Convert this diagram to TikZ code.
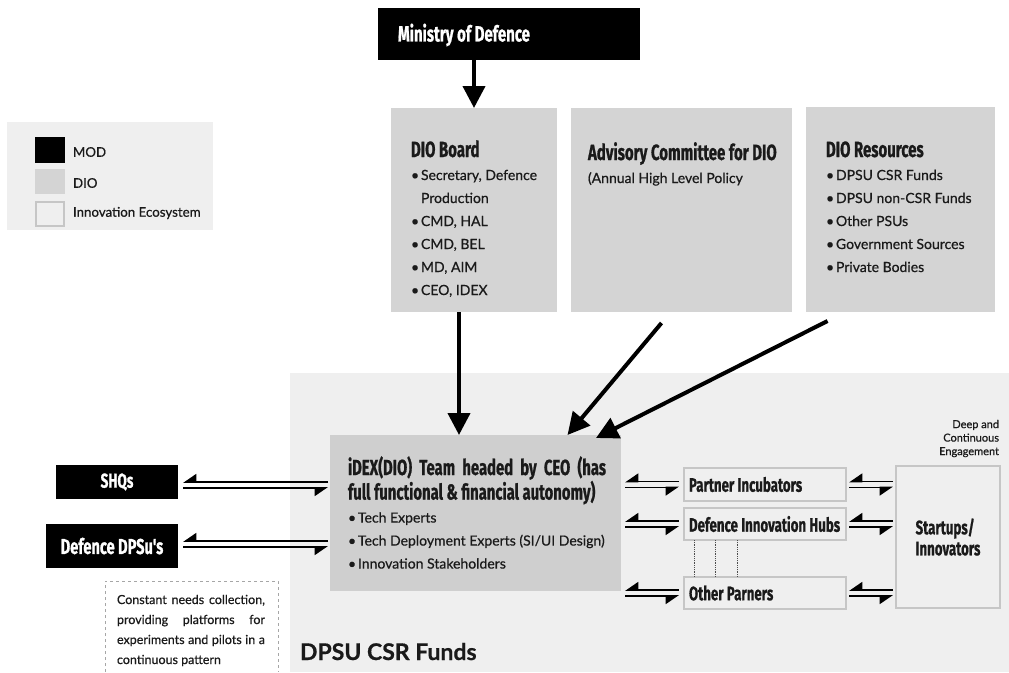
\documentclass[tikz,border=0pt]{standalone}
\usepackage{fontspec}
\setmainfont{Lato}[RawFeature={embolden=0.6}]
\newfontfamily\hfont[FakeStretch=0.68,RawFeature={embolden=0.8}]{Fira Sans}
\usetikzlibrary{arrows.meta,calc}
\definecolor{dio}{HTML}{D4D4D4}
\definecolor{eco}{HTML}{EFEFEF}
\definecolor{ecoline}{HTML}{C6C6C6}
\definecolor{idexc}{HTML}{CFCFCF}
\definecolor{txt}{HTML}{1A1A1A}
\newcommand\hd[2]{{\hfont\bfseries\fontsize{#1}{23}\selectfont #2}}
\newcommand\bl{\makebox[10pt][l]{•}}
\newcommand\tstrut{\rule{0pt}{20pt}}
\newcommand\harp[2]{%
  \draw[harpL] ([yshift=3pt]#2) -- ([yshift=3pt]#1);
  \draw[harpR] ([yshift=-3pt]#1) -- ([yshift=-3pt]#2);}
\begin{document}
\begin{tikzpicture}[x=1pt,y=-1pt,
  every node/.style={inner sep=0pt,outer sep=0pt,text=txt},
  blackbox/.style={fill=black,draw=none,anchor=north west},
  diobox/.style={fill=dio,draw=none,anchor=north west},
  ecobox/.style={fill=eco,draw=ecoline,line width=2pt,anchor=north west},
  body/.style={font=\fontsize{14}{23}\selectfont,align=left,anchor=north west},
  arr/.style={line width=4pt,-{Triangle[length=22pt,width=22pt]}},
  harpL/.style={line width=1.8pt,-{Triangle[harpoon,swap,length=12pt,width=16pt]}},
  harpR/.style={line width=1.8pt,-{Triangle[harpoon,swap,length=12pt,width=16pt]}}]
\useasboundingbox (0,0) rectangle (1009,672);
\fill[white] (0,0) rectangle (1009,672);
% ecosystem background
\node[fill=eco,anchor=north west,minimum width=719pt,minimum height=299pt] (ecobg) at (290,373) {};
% legend
\node[fill=eco,anchor=north west,minimum width=206pt,minimum height=108pt] (leg) at (7,122) {};
\node[blackbox,minimum width=30pt,minimum height=26pt] (lm) at (35,137) {};
\node[diobox,minimum width=30pt,minimum height=25pt] (ld) at (35,169) {};
\node[ecobox,minimum width=28pt,minimum height=24pt] (le) at (36,202) {};
\node[font=\fontsize{13.3}{14}\selectfont,anchor=west] (lmt) at (73,152) {MOD};
\node[font=\fontsize{13.3}{14}\selectfont,anchor=west] (ldt) at (73,183) {DIO};
\node[font=\fontsize{13.3}{14}\selectfont,anchor=west] (let) at (73,213) {Innovation Ecosystem};
% MOD
\node[blackbox,minimum width=262pt,minimum height=52pt] (mod) at (378,8) {};
\node[anchor=west,text=white] (modt) at (398,35) {\hd{22}{Ministry of Defence}};
% DIO boxes
\node[diobox,minimum width=166pt,minimum height=204pt] (board) at (391,108) {};
\node[diobox,minimum width=221pt,minimum height=204pt] (adv) at (571,108) {};
\node[diobox,minimum width=189pt,minimum height=205pt] (res) at (806,107) {};
\node[body] (boardt) at (411,137) {\tstrut\hd{22}{DIO Board}\\
 \bl Secretary, Defence\\ \hspace*{10pt}Production\\ \bl CMD, HAL\\ \bl CMD, BEL\\ \bl MD, AIM\\ \bl CEO, IDEX};
\node[body] (advt) at (588,140) {\tstrut\hd{22}{Advisory Committee for DIO}\\
 (Annual High Level Policy};
\node[body] (rest) at (826,137) {\tstrut\hd{22}{DIO Resources}\\
 \bl DPSU CSR Funds\\ \bl DPSU non-CSR Funds\\ \bl Other PSUs\\ \bl Government Sources\\ \bl Private Bodies};
% iDEX
\node[fill=idexc,anchor=north west,minimum width=291pt,minimum height=156pt] (idex) at (330,435) {};
\node[body] (idext) at (348,455) {\tstrut\makebox[258pt][s]{\hd{21.8}{iDEX(DIO) Team headed by CEO (has}}\\
 \hd{21.8}{full functional \& financial autonomy)}\\
 \bl Tech Experts\\ \bl Tech Deployment Experts (SI/UI Design)\\ \bl Innovation Stakeholders};
% left black boxes
\node[blackbox,minimum width=122pt,minimum height=34pt] (shq) at (56,465) {};
\node[text=white] (shqt) at (shq.center) {\hd{20}{SHQs}};
\node[blackbox,minimum width=132pt,minimum height=44pt] (dpsu) at (46,524) {};
\node[text=white] (dpsut) at (dpsu.center) {\hd{21.5}{Defence DPSu's}};
% partner boxes
\node[ecobox,minimum width=162pt,minimum height=33pt,text width=152pt,inner xsep=5pt,align=left] (pi) at (684,468) {\hd{19.5}{Partner Incubators}};
\node[ecobox,minimum width=162pt,minimum height=32pt,text width=152pt,inner xsep=5pt,align=left] (dih) at (684,508) {\hd{19.5}{Defence Innovation Hubs}};
\node[ecobox,minimum width=162pt,minimum height=32pt,text width=152pt,inner xsep=5pt,align=left] (op) at (684,577) {\hd{19.5}{Other Parners}};
\node[ecobox,minimum width=104pt,minimum height=142pt,align=left,font=\fontsize{19.5}{21}\selectfont] (st) at (896,466) {\hd{19.5}{Startups/}\\\hd{19.5}{Innovators}};
\node[font=\fontsize{11}{13.5}\selectfont,align=right,anchor=north east] (deep) at (999,420) {Deep and\\Continuous\\Engagement};
% dotted links
\foreach \dx in {10,31,53}{
  \draw[densely dotted,line width=0.8pt,black!70] ([xshift=\dx pt]dih.south west) -- ([xshift=\dx pt]dih.south west |- op.north);}
% dashed note
\node[anchor=north west,minimum width=173pt,minimum height=91pt] (note) at (105,581) {};
\draw[dashed,draw=black!35,line width=0.8pt] (note.south west) -- (note.north west) -- (note.north east) -- (note.south east);
\node[font=\fontsize{12.5}{20}\selectfont,align=left,anchor=north west] (notet) at (117,586) {%
\rule{0pt}{18pt}\makebox[148pt][s]{Constant needs collection,}\\
\makebox[148pt][s]{providing platforms for}\\
\makebox[148pt][s]{experiments and pilots in a}\\
continuous pattern};
\node[font=\bfseries\fontsize{23}{24}\selectfont,anchor=base west] (csr) at (300,660) {DPSU CSR Funds};
% arrows
\draw[arr] (mod.south -| board.north) -- (board.north);
\draw[arr] ([xshift=-15pt]board.south) -- ([xshift=-15pt]board.south |- idex.north);
\draw[arr] ($(adv.south)+(-20,11)$) -- ($(idex.north)+(92,0)$);
\draw[arr] ($(res.south)+(-73,9)$) -- ($(idex.north east)+(-25,3)$);
% harpoons
\coordinate (a1) at ($(shq.east)+(5,3)$);   \coordinate (b1) at ($(a1 -| idex.west)+(-2,0)$);
\coordinate (a2) at ($(dpsu.east)+(5,-2)$); \coordinate (b2) at ($(a2 -| idex.west)+(-2,0)$);
\harp{a1}{b1}\harp{a2}{b2}
\foreach \n in {pi,dih,op}{
  \coordinate (p\n) at ($(\n.west -| idex.east)+(4,0)$);
  \coordinate (q\n) at ($(\n.west)+(-5,0)$);
  \harp{p\n}{q\n}
  \coordinate (r\n) at ($(\n.east)+(3,0)$);
  \coordinate (s\n) at ($(\n.east -| st.west)+(-3,0)$);
  \harp{r\n}{s\n}}
\end{tikzpicture}
\end{document}
